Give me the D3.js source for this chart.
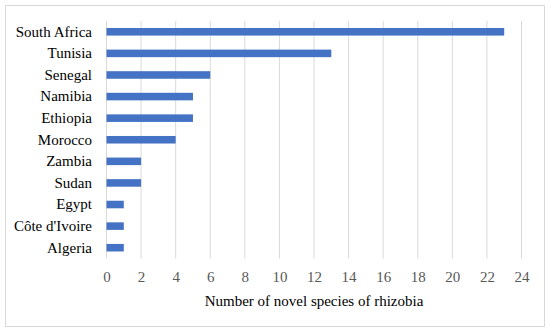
<!DOCTYPE html>
<html><head><meta charset="utf-8">
<script src="https://cdn.jsdelivr.net/npm/d3@7/dist/d3.min.js"></script>
<style>body{margin:0;background:#fff}svg{display:block}</style>
</head><body>
<svg id="c" width="550" height="333"></svg>
<script>
const categories = ["South Africa","Tunisia","Senegal","Namibia","Ethiopia","Morocco","Zambia","Sudan","Egypt","Côte d'Ivoire","Algeria"];
const values = [23,13,6,5,5,4,2,2,1,1,1];
const ticks = [0,2,4,6,8,10,12,14,16,18,20,22,24];
const xTitle = "Number of novel species of rhizobia";

const svg = d3.select("#c");
const font = "'Liberation Serif', serif";
svg.append("rect").attr("x",5.5).attr("y",5.5).attr("width",539).attr("height",321)
  .attr("fill","#fff").attr("stroke","#d9d9d9").attr("stroke-width",1);

const x = d3.scaleLinear().domain([0,24]).range([106.5,521.5]);
const y = d3.scaleBand().domain(categories).range([21,258.5]).paddingInner(0.65).paddingOuter(0.325);

svg.append("g").selectAll("line").data(ticks).join("line")
  .attr("x1",d=>x(d)).attr("x2",d=>x(d)).attr("y1",21).attr("y2",258.5)
  .attr("stroke","#d9d9d9").attr("stroke-width",1);

svg.append("g").selectAll("rect").data(values).join("rect")
  .attr("x",x(0)).attr("y",(d,i)=>y(categories[i]))
  .attr("width",d=>x(d)-x(0)).attr("height",y.bandwidth())
  .attr("fill","#4472C4");

const xa = svg.append("g").attr("transform","translate(0,258.5)")
  .call(d3.axisBottom(x).tickValues(ticks).tickSize(0).tickPadding(13).tickFormat(d3.format("d")));
xa.select(".domain").remove();
xa.selectAll("text").attr("font-family",font).attr("font-size",15).attr("fill","#595959");

const ya = svg.append("g").attr("transform","translate(92,0)")
  .call(d3.axisLeft(y).tickSize(0).tickPadding(0));
ya.select(".domain").remove();
ya.selectAll("text").attr("font-family",font).attr("font-size",15).attr("fill","#000");

svg.append("text").attr("x",314).attr("y",305.5).attr("text-anchor","middle")
  .attr("font-family",font).attr("font-size",15).attr("fill","#000").text(xTitle);
</script>
</body></html>
